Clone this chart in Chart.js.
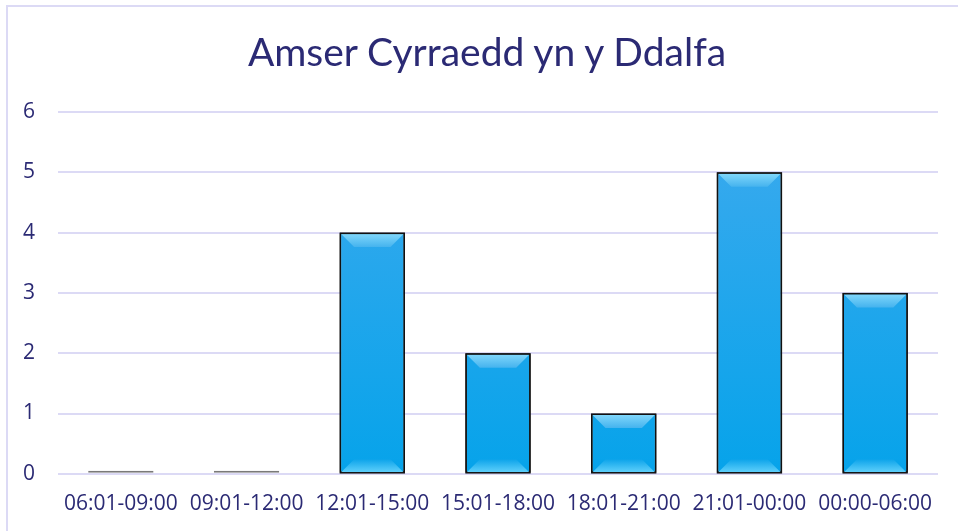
<!DOCTYPE html>
<html><head><meta charset="utf-8">
<script src="https://cdn.jsdelivr.net/npm/chart.js@4/dist/chart.umd.min.js"></script>
<style>
html,body{margin:0;padding:0;background:#fff;}
#wrap{position:absolute;left:0;top:0;width:958px;height:531px;}
#frame{position:absolute;left:6px;top:5px;width:960px;height:540px;border-left:2px solid #dcdaf5;border-top:2px solid #dcdaf5;}
#title{position:absolute;left:287px;width:400px;top:28px;text-align:center;white-space:nowrap;font-family:Lato,'Open Sans',sans-serif;font-size:39px;line-height:47px;color:#2b2a74;display:flex;justify-content:center;}
</style></head>
<body>
<div id="frame"></div>
<div id="wrap"><canvas id="c" width="958" height="531"></canvas></div>
<div id="title"></div>
<script>
const titleText = "Amser Cyrraedd yn y Ddalfa";
const categories = ["06:01-09:00","09:01-12:00","12:01-15:00","15:01-18:00","18:01-21:00","21:01-00:00","00:00-06:00"];
const counts = [0,0,4,2,1,5,3];
const yTicks = [0,1,2,3,4,5,6];

const textColor = "#2b2a74";
document.getElementById('title').textContent = titleText;

function barFill(ctx){
  const v = ctx.raw;
  if (v === 0) return "#ffffff";
  const chart = ctx.chart;
  const c = chart.ctx;
  const g = c.createLinearGradient(0, chart.chartArea.top, 0, chart.chartArea.bottom);
  g.addColorStop(0, "#3eaaee");
  g.addColorStop(1, "#06a3ea");
  return g;
}

const bevel = {
  id:'bevel',
  afterDatasetDraw(chart){
    const meta = chart.getDatasetMeta(0);
    const c = chart.ctx;
    meta.data.forEach((el,i)=>{
      if (counts[i] === 0) return;
      const {x,y,base,width} = el.getProps(['x','y','base','width'], true);
      const l = x - width/2 + 1.5, r = x + width/2 - 1.5, t = y + 1.5, b = base - 0.5;
      const d = 13;
      c.save();
      let g = c.createLinearGradient(0,t,0,t+d);
      g.addColorStop(0,"#7fd6fb"); g.addColorStop(1,"#45b3ee");
      c.fillStyle = g;
      c.beginPath(); c.moveTo(l,t); c.lineTo(r,t); c.lineTo(r-d,t+d); c.lineTo(l+d,t+d); c.closePath(); c.fill();
      g = c.createLinearGradient(0,b-d,0,b);
      g.addColorStop(0,"#0da4ea"); g.addColorStop(1,"#5fd0fb");
      c.fillStyle = g;
      c.beginPath(); c.moveTo(l,b); c.lineTo(r,b); c.lineTo(r-d,b-d); c.lineTo(l+d,b-d); c.closePath(); c.fill();
      c.strokeStyle = "#111"; c.lineWidth = 1.5;
      c.strokeRect(x - width/2 + 0.75, y + 0.75, width - 1.5, base - y - 0.75);
      c.restore();
    });
  }
};

new Chart(document.getElementById('c'), {
  type:'bar',
  data:{
    labels: categories,
    datasets:[{
      data: counts,
      backgroundColor: barFill,
      borderColor: ctx => ctx.raw === 0 ? "#7a7a7a" : "#111111",
      borderWidth: 1.5,
      borderSkipped: false,
      minBarLength: 3,
      barPercentage: 0.52,
      categoryPercentage: 1.0
    }]
  },
  options:{
    responsive:false,
    animation:false,
    devicePixelRatio:1,
    layout:{padding:{left:0,right:20,top:112,bottom:4}},
    plugins:{
      legend:{display:false},
      tooltip:{enabled:false},
      title:{display:false}
    },
    scales:{
      x:{
        grid:{display:false},
        border:{display:false},
        ticks:{color:textColor, font:{family:"'Open Sans', sans-serif", size:21}, padding:10, maxRotation:0, autoSkip:false}
      },
      y:{
        min:0, max:6,
        afterBuildTicks(ax){ ax.ticks = yTicks.map(v=>({value:v})); },
        grid:{color:"#dcdaf5", lineWidth:2, drawTicks:false},
        border:{display:false},
        ticks:{color:textColor, font:{family:"'Open Sans', sans-serif", size:21}, padding:23}
      }
    }
  },
  plugins:[bevel]
});
</script>
</body></html>
